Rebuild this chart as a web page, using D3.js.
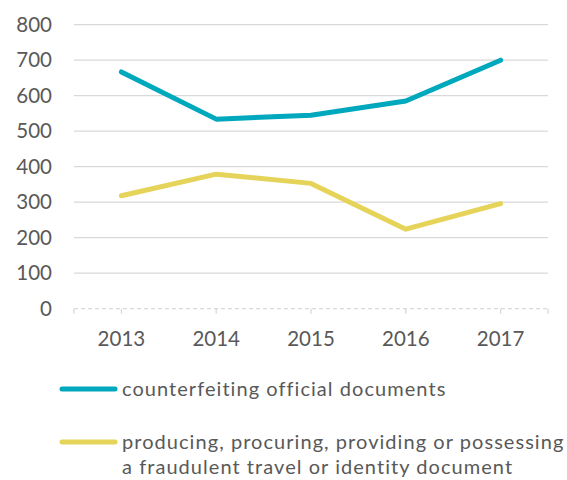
<!DOCTYPE html>
<html><head><meta charset="utf-8">
<script src="https://cdn.jsdelivr.net/npm/d3@7"></script>
<style>body{margin:0;background:#fff}svg{display:block}text{font-family:Lato,"Open Sans",sans-serif;fill:#595959}</style>
</head><body>
<script>
const years = ["2013","2014","2015","2016","2017"];
const counterfeiting = [667, 534, 545, 585, 700];
const producing = [318, 379, 353, 224, 296];
const yTicks = [0,100,200,300,400,500,600,700,800];
const seriesNames = ["counterfeiting official documents", "producing, procuring, providing or possessing", "a fraudulent travel or identity document"];

const W=567,H=480;
const svg=d3.select("body").append("svg").attr("width",W).attr("height",H);
const x=d3.scalePoint().domain(years).range([74,548]).padding(0.5);
const y=d3.scaleLinear().domain([0,800]).range([308.7,24.7]);

// grid
svg.append("g").selectAll("line").data(yTicks.filter(d=>d>0)).join("line")
 .attr("x1",74).attr("x2",548).attr("y1",d=>y(d)).attr("y2",d=>y(d))
 .attr("stroke","#d9d9d9").attr("stroke-width",1.3);
// y labels
svg.append("g").selectAll("text").data(yTicks).join("text")
 .attr("x",52).attr("y",d=>y(d)).attr("dy","0.35em").attr("text-anchor","end")
 .style("font-size","20.5px").text(d=>d);
// x axis dashed
svg.append("line").attr("x1",74).attr("x2",548).attr("y1",y(0)).attr("y2",y(0))
 .attr("stroke","#d9d9d9").attr("stroke-width",1.3).attr("stroke-dasharray","4,3");
const tickXs=[74].concat(years.map(d=>x(d)),[548]);
svg.append("g").selectAll("line").data(tickXs).join("line")
 .attr("x1",d=>d).attr("x2",d=>d).attr("y1",y(0)).attr("y2",y(0)+5)
 .attr("stroke","#d9d9d9").attr("stroke-width",1.3);
svg.append("g").selectAll("text").data(years).join("text")
 .attr("x",d=>x(d)).attr("y",339).attr("dy","0.35em").attr("text-anchor","middle")
 .style("font-size","20.5px").text(d=>d);

const line=d3.line().x((d,i)=>x(years[i])).y(d=>y(d));
const series=[{v:counterfeiting,c:"#00A8BD"},{v:producing,c:"#E5D35A"}];
svg.append("g").selectAll("path").data(series).join("path")
 .attr("d",d=>line(d.v)).attr("fill","none").attr("stroke",d=>d.c)
 .attr("stroke-width",5).attr("stroke-linecap","round").attr("stroke-linejoin","round");

// legend
const lg=svg.append("g");
const ls="1.05px";
lg.append("line").attr("x1",62).attr("x2",115).attr("y1",389).attr("y2",389).attr("stroke",series[0].c).attr("stroke-width",5).attr("stroke-linecap","round");
lg.append("text").attr("x",122).attr("y",389).attr("dy","0.35em").style("font-size","20px").style("letter-spacing",ls).text(seriesNames[0]);
lg.append("line").attr("x1",62).attr("x2",115).attr("y1",442).attr("y2",442).attr("stroke",series[1].c).attr("stroke-width",5).attr("stroke-linecap","round");
lg.append("text").attr("x",122).attr("y",442).attr("dy","0.35em").style("font-size","20px").style("letter-spacing",ls).text(seriesNames[1]);
lg.append("text").attr("x",122).attr("y",467).attr("dy","0.35em").style("font-size","20px").style("letter-spacing",ls).text(seriesNames[2]);
</script>
</body></html>
